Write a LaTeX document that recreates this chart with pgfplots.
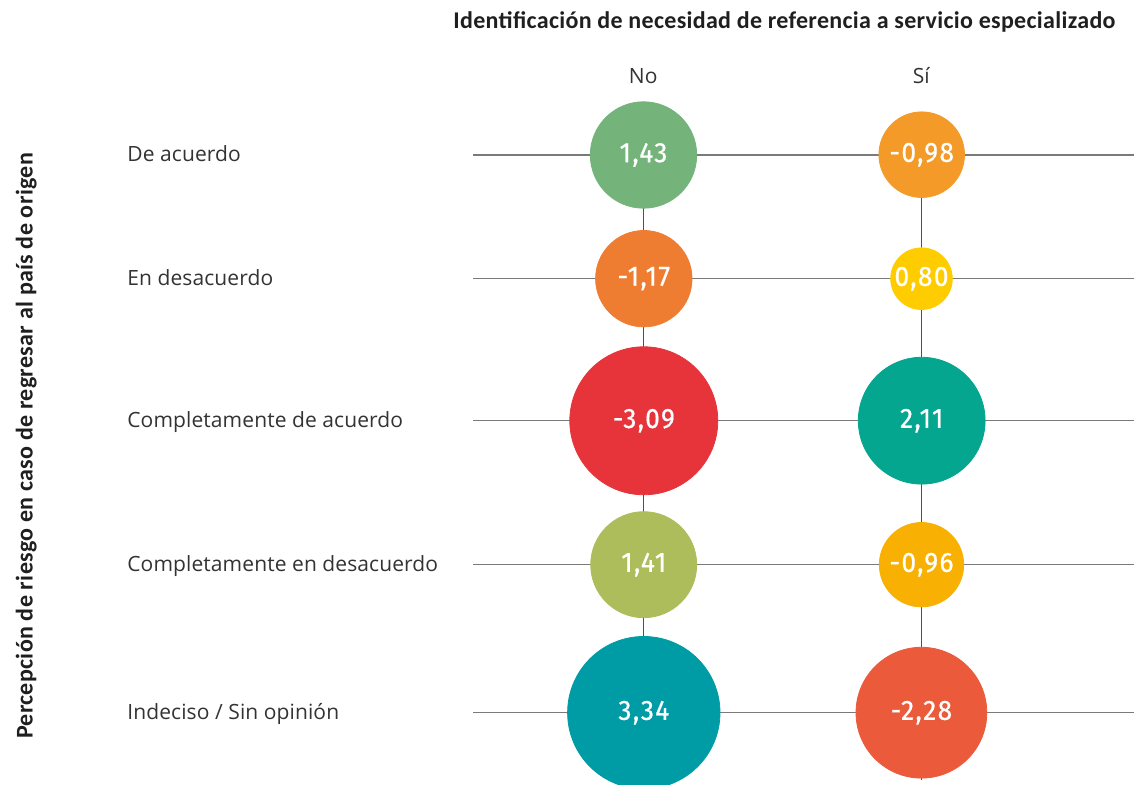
\documentclass[border=0pt]{standalone}
\usepackage{pgfplots}
\pgfplotsset{compat=1.18}
\usepackage{fontspec}
\setmainfont{Open Sans}[LetterSpace=0.5]
\newfontfamily\titlefont{Carlito}[LetterSpace=1.3]
\newfontfamily\numfont{Fira Sans}[FakeStretch=0.94, FakeBold=0.6, LetterSpace=5]
\definecolor{cA}{HTML}{74B47B}
\definecolor{cB}{HTML}{F39A28}
\definecolor{cC}{HTML}{EF7D31}
\definecolor{cD}{HTML}{FFCC00}
\definecolor{cE}{HTML}{E6343A}
\definecolor{cF}{HTML}{04A68F}
\definecolor{cG}{HTML}{ADBD5B}
\definecolor{cH}{HTML}{F8B103}
\definecolor{cI}{HTML}{009CA6}
\definecolor{cJ}{HTML}{EB5A3A}
\definecolor{hline}{HTML}{7A7A7A}
\definecolor{vline}{HTML}{505050}
\definecolor{txt}{HTML}{333333}
\tikzset{
  numlab/.style={font=\numfont\fontsize{14}{16}\selectfont, text=white, anchor=center, inner sep=0pt},
  rowlab/.style={font=\fontsize{10.5}{12}\selectfont, text=txt, anchor=base west, inner sep=0pt},
  ttl/.style={font=\titlefont\bfseries\fontsize{12}{14}\selectfont, text=black!88, inner sep=0pt},
}
\begin{document}
\begin{tikzpicture}
\begin{axis}[
  x=0.5pt, y=0.5pt, y dir=reverse,
  xmin=0, xmax=1134, ymin=0, ymax=785,
  hide axis, clip=false, set layers,
]
\coordinate (BL) at (axis cs:0,785);
\coordinate (TR) at (axis cs:1134,0);
% horizontal row lines
\addplot[hline, line width=0.75pt] coordinates {(473,155) (1134,155)};
\addplot[hline, line width=0.75pt] coordinates {(473,278.7) (1134,278.7)};
\addplot[hline, line width=0.75pt] coordinates {(473,420.7) (1134,420.7)};
\addplot[hline, line width=0.75pt] coordinates {(473,564.5) (1134,564.5)};
\addplot[hline, line width=0.75pt] coordinates {(473,712.7) (1134,712.7)};
% vertical column lines
\addplot[vline, line width=0.65pt] coordinates {(643.5,155) (643.5,785)};
\addplot[vline, line width=0.65pt] coordinates {(921.5,155) (921.5,780)};
% circles: No column
\addplot[only marks, mark=*, color=cA, mark size=26.6pt] coordinates {(643.5,155)};
\addplot[only marks, mark=*, color=cC, mark size=24.1pt] coordinates {(643.8,278.7)};
\addplot[only marks, mark=*, color=cE, mark size=37.0pt] coordinates {(643.8,420.8)};
\addplot[only marks, mark=*, color=cG, mark size=26.5pt] coordinates {(643.7,564.7)};
\addplot[only marks, mark=*, color=cI, mark size=38.1pt] coordinates {(643.8,712.7)};
% circles: Si column
\addplot[only marks, mark=*, color=cB, mark size=21.4pt] coordinates {(921.7,154.7)};
\addplot[only marks, mark=*, color=cD, mark size=15.4pt] coordinates {(921.5,278.7)};
\addplot[only marks, mark=*, color=cF, mark size=31.7pt] coordinates {(921.7,420.7)};
\addplot[only marks, mark=*, color=cH, mark size=21.1pt] coordinates {(921.5,564.7)};
\addplot[only marks, mark=*, color=cJ, mark size=32.7pt] coordinates {(921.4,712.7)};
\begin{pgfonlayer}{axis foreground}
% values
\node[numlab] at (axis cs:643.5,155) {1,43};
\node[numlab] at (axis cs:643.8,278.7) {-1,17};
\node[numlab] at (axis cs:643.8,420.8) {-3,09};
\node[numlab] at (axis cs:643.7,564.7) {1,41};
\node[numlab] at (axis cs:643.8,712.7) {3,34};
\node[numlab] at (axis cs:921.7,154.7) {-0,98};
\node[numlab] at (axis cs:921.5,278.7) {0,80};
\node[numlab] at (axis cs:921.7,420.7) {2,11};
\node[numlab] at (axis cs:921.5,564.7) {-0,96};
\node[numlab] at (axis cs:921.4,712.7) {-2,28};
\end{pgfonlayer}
% title and headers
\node[ttl, anchor=base] at (axis cs:784.5,29) {Identificación de necesidad de referencia a servicio especializado};
\node[anchor=base, inner sep=0pt, font=\fontsize{10.5}{12}\selectfont, text=txt] at (axis cs:643.3,83.3) {No};
\node[anchor=base, inner sep=0pt, font=\fontsize{10.5}{12}\selectfont, text=txt] at (axis cs:921.3,83.3) {Sí};
% row labels
\node[rowlab] at (axis cs:127,161.7) {De acuerdo};
\node[rowlab] at (axis cs:127,285.4) {En desacuerdo};
\node[rowlab] at (axis cs:127,427.4) {Completamente de acuerdo};
\node[rowlab] at (axis cs:127,571.2) {Completamente en desacuerdo};
\node[rowlab] at (axis cs:127,719.4) {Indeciso / Sin opinión};
% y label
\node[ttl, rotate=90, anchor=base] at (axis cs:32.5,446) {Percepción de riesgo en caso de regresar al país de origen};
\end{axis}
\pgfresetboundingbox
\useasboundingbox (BL) rectangle (TR);
\end{tikzpicture}
\end{document}
